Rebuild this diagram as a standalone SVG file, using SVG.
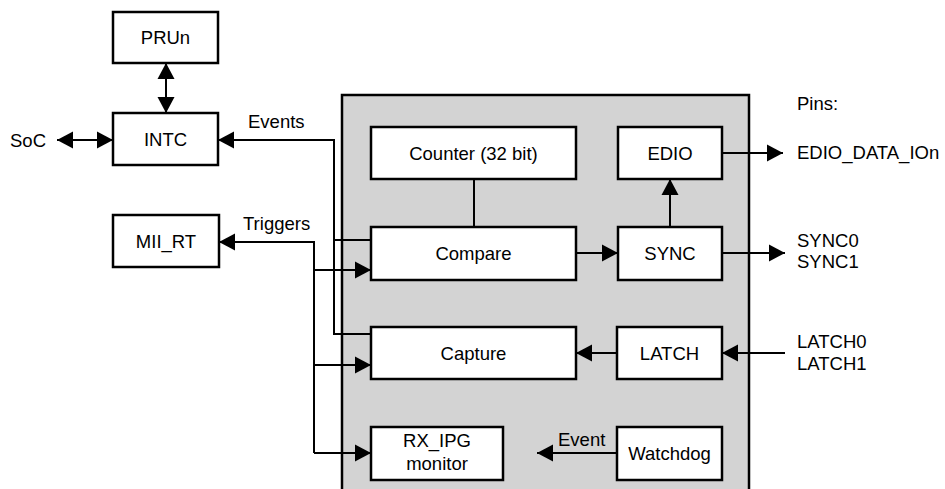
<svg xmlns="http://www.w3.org/2000/svg" width="945" height="489" viewBox="0 0 945 489">
<style>
.box{fill:#fff;stroke:#000;stroke-width:2.5}
.t{font-family:"Liberation Sans",Arial,sans-serif;font-size:18.5px;fill:#000}
.c{text-anchor:middle}
.ln{fill:none;stroke:#000;stroke-width:2}
</style>
<defs>
<marker id="ah" markerUnits="userSpaceOnUse" markerWidth="17" markerHeight="18" refX="16" refY="9" orient="auto-start-reverse" viewBox="0 0 17 18">
<path d="M0,0.5 L16,9 L0,17.5 z" fill="#000"/>
</marker>
</defs>
<rect width="945" height="489" fill="#fff"/>
<g id="block">
<rect x="342" y="95" width="407" height="420" fill="#d3d3d3" stroke="#000" stroke-width="2.5"/>
</g>
<g id="connectors">
<line class="ln" x1="166" y1="63" x2="166" y2="113" marker-start="url(#ah)" marker-end="url(#ah)"/>
<line class="ln" x1="57" y1="140" x2="113" y2="140" marker-start="url(#ah)" marker-end="url(#ah)"/>
<polyline class="ln" points="371,334 334,334 334,140 218,140" marker-end="url(#ah)"/>
<line class="ln" x1="334" y1="240" x2="371" y2="240"/>
<polyline class="ln" points="314,453 314,242 219,242" marker-end="url(#ah)"/>
<line class="ln" x1="314" y1="270" x2="371" y2="270" marker-end="url(#ah)"/>
<line class="ln" x1="314" y1="365" x2="371" y2="365" marker-end="url(#ah)"/>
<line class="ln" x1="314" y1="453" x2="371" y2="453" marker-end="url(#ah)"/>
<line class="ln" x1="474" y1="179" x2="474" y2="227"/>
<line class="ln" x1="576" y1="253" x2="618" y2="253" marker-end="url(#ah)"/>
<line class="ln" x1="670" y1="227" x2="670" y2="179" marker-end="url(#ah)"/>
<line class="ln" x1="722" y1="153" x2="783" y2="153" marker-end="url(#ah)"/>
<line class="ln" x1="722" y1="253" x2="785" y2="253" marker-end="url(#ah)"/>
<line class="ln" x1="785" y1="353" x2="722" y2="353" marker-end="url(#ah)"/>
<line class="ln" x1="617" y1="353" x2="576" y2="353" marker-end="url(#ah)"/>
<line class="ln" x1="617" y1="453" x2="537" y2="453" marker-end="url(#ah)"/>
</g>
<g id="prun"><rect class="box" x="113" y="12" width="105" height="51"/><text class="t c" x="165.5" y="44">PRUn</text></g>
<g id="intc"><rect class="box" x="113" y="113" width="105" height="52"/><text class="t c" x="165.5" y="146">INTC</text></g>
<g id="miirt"><rect class="box" x="113" y="215" width="106" height="52"/><text class="t c" x="166" y="248">MII_RT</text></g>
<g id="counter"><rect class="box" x="371" y="127" width="205" height="52"/><text class="t c" x="473.5" y="160">Counter (32 bit)</text></g>
<g id="edio"><rect class="box" x="618" y="127" width="104" height="52"/><text class="t c" x="670" y="160">EDIO</text></g>
<g id="compare"><rect class="box" x="371" y="227" width="205" height="53"/><text class="t c" x="473.5" y="260">Compare</text></g>
<g id="sync"><rect class="box" x="618" y="227" width="104" height="53"/><text class="t c" x="670" y="260">SYNC</text></g>
<g id="capture"><rect class="box" x="371" y="327" width="205" height="52"/><text class="t c" x="473.5" y="360">Capture</text></g>
<g id="latch"><rect class="box" x="617" y="327" width="105" height="52"/><text class="t c" x="669.5" y="360">LATCH</text></g>
<g id="rxipg"><rect class="box" x="371" y="427" width="132" height="53"/><text class="t c" x="437" y="447">RX_IPG</text><text class="t c" x="437" y="470">monitor</text></g>
<g id="watchdog"><rect class="box" x="617" y="427" width="105" height="53"/><text class="t c" x="669.5" y="460">Watchdog</text></g>
<g id="labels">
<text class="t" x="10" y="147">SoC</text>
<text class="t" x="248" y="128">Events</text>
<text class="t" x="243" y="230">Triggers</text>
<text class="t" x="558" y="446">Event</text>
<text class="t" x="797" y="110">Pins:</text>
<text class="t" x="797" y="159">EDIO_DATA_IOn</text>
<text class="t" x="797" y="247">SYNC0</text>
<text class="t" x="797" y="268">SYNC1</text>
<text class="t" x="797" y="348">LATCH0</text>
<text class="t" x="797" y="370">LATCH1</text>
</g>
</svg>
